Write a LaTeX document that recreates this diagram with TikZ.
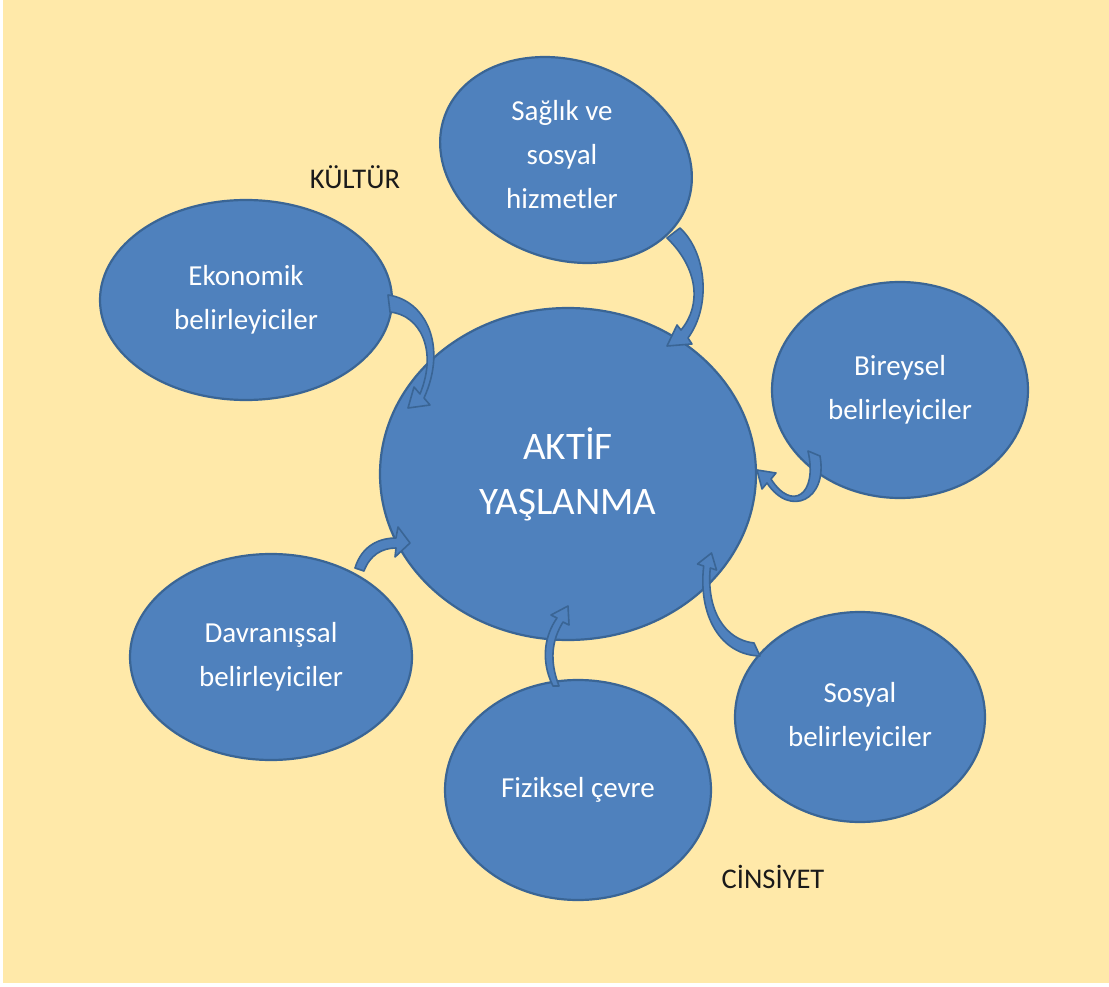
\documentclass[tikz,border=0pt]{standalone}
\usepackage{fontspec}
\setmainfont{Carlito}
\usetikzlibrary{shapes.geometric}
\definecolor{bgyellow}{HTML}{FFE9A9}
\definecolor{ellblue}{HTML}{4F81BD}
\definecolor{ellline}{HTML}{3A6595}
\definecolor{labelcol}{HTML}{1A1A1A}
\tikzset{
  bubble/.style={ellipse, fill=ellblue, draw=ellline, line width=2.2pt, inner sep=0pt,
    text=white, align=center, font=\fontsize{29}{44}\selectfont},
  bubbletext/.style={text=white, align=center, font=\fontsize{29}{44}\selectfont, inner sep=0pt},
  blockarrow/.style={fill=ellblue, draw=ellline, line width=1.6pt, line join=round},
  outerlabel/.style={text=labelcol, font=\fontsize{28.5}{34}\selectfont}
}
\begin{document}
\begin{tikzpicture}[x=1pt,y=-1pt]
\useasboundingbox (0,0) rectangle (1109,987);
\fill[white] (0,0) rectangle (1109,987);
\fill[bgyellow] (3,0) rectangle (1109,983);

% nodes
\node[bubble, minimum width=376pt, minimum height=332pt, font=\fontsize{39}{55}\selectfont] (center) at (568,474) {AKT\.IF\\YAŞLANMA};
\node[bubble, minimum width=258pt, minimum height=198pt, rotate=-20] (saglik) at (566,160) {};
\node[bubbletext] (saglikt) at (562,155) {Sağlık ve\\sosyal\\hizmetler};
\node[bubble, minimum width=292pt, minimum height=200pt] (eko) at (246,300) {Ekonomik\\belirleyiciler};
\node[bubble, minimum width=256pt, minimum height=216pt] (bir) at (900,390) {Bireysel\\belirleyiciler};
\node[bubble, minimum width=282pt, minimum height=206pt] (dav) at (271,657) {Davranışsal\\belirleyiciler};
\node[bubble, minimum width=266pt, minimum height=220pt] (fiz) at (578,790) {Fiziksel çevre};
\node[bubble, minimum width=250pt, minimum height=210pt] (sos) at (860,717) {Sosyal\\belirleyiciler};

\node[outerlabel] (kultur) at (355,177) {KÜLTÜR};
\node[outerlabel] (cins) at (773,877) {C\.INS\.IYET};

% curved block arrows
% Sağlık -> center
\draw[blockarrow] (667,238) .. controls (698,268) and (702,305) .. (681,330) -- (677,325) -- (667,346) -- (692,344) -- (688,338) .. controls (712,305) and (706,252) .. (680,228) -- cycle;
% Ekonomik -> center
\draw[blockarrow] (388,295) .. controls (425,300) and (448,345) .. (424,398) -- (430,405) -- (408,408) -- (414,387) -- (420,394) .. controls (438,350) and (420,315) .. (390,312) -- cycle;
% Bireysel -> center
\draw[blockarrow] (808,451) .. controls (818,495) and (792,512) .. (771,479) -- (776,473) -- (757,470) -- (762,489) -- (767,483) .. controls (790,518) and (828,500) .. (820,456) -- cycle;
% Davranışsal -> center
\draw[blockarrow] (355,568) .. controls (362,545) and (380,538) .. (396,538) -- (398,527) -- (410,543) -- (395,557) -- (396,548) .. controls (382,548) and (370,555) .. (364,571) -- cycle;
% Fiziksel -> center
\draw[blockarrow] (553,686) .. controls (540,660) and (545,635) .. (557,618) -- (551,615) -- (568,606) -- (569,625) -- (563,622) .. controls (552,640) and (549,660) .. (559,686) -- cycle;
% Sosyal -> center
\draw[blockarrow] (760,656) .. controls (720,655) and (698,615) .. (703.7,566) -- (697.5,564) -- (711.5,553) -- (716.5,570) -- (710.3,568) .. controls (706,610) and (725,640) .. (754,643) -- cycle;
\end{tikzpicture}
\end{document}
